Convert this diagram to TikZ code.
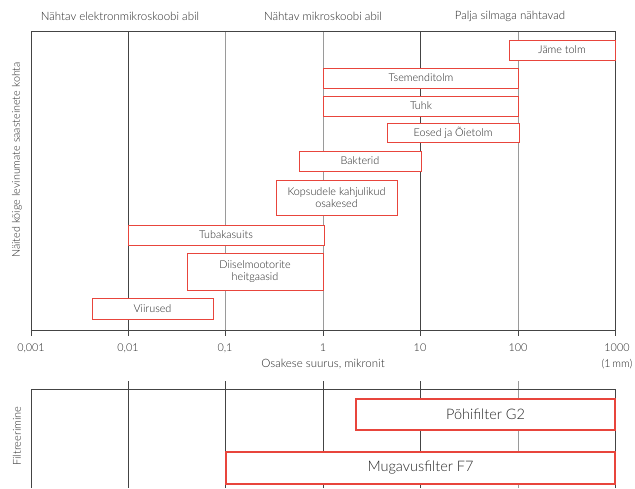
\documentclass[tikz,border=0pt]{standalone}
\usepackage{fontspec}
\setmainfont{Lato Light}
\usepackage{xcolor}
\usepackage{tikz}

\definecolor{boxred}{HTML}{E8453C}
\definecolor{txtgray}{HTML}{262626}
\definecolor{griddark}{HTML}{444444}
\definecolor{gridlight}{HTML}{9A9A9A}

\tikzset{
  sizebox/.style={draw=boxred, line width=1pt, fill=white, text=txtgray,
    font=\fontsize{10.8}{12.5}\selectfont, inner sep=0pt, align=center},
  filterbox/.style={draw=boxred, line width=1.3pt, fill=white, text=txtgray,
    font=\fontsize{14.5}{16}\selectfont, inner sep=0pt},
  ticklabel/.style={text=txtgray, font=\fontsize{10.8}{12}\selectfont},
  headlabel/.style={text=txtgray, font=\fontsize{11.5}{13}\selectfont}
}

\begin{document}
\begin{tikzpicture}[x=1pt, y=-1pt]
        \useasboundingbox (0, 0) rectangle (635, 488);

        % upper panel, decade lines
        \draw[griddark, line width=0.8pt] (128, 31) -- (128, 330);
        \draw[gridlight, line width=1pt] (225, 31) -- (225, 330);
        \draw[gridlight, line width=1pt] (323, 31) -- (323, 330);
        \draw[griddark, line width=0.8pt] (420, 31) -- (420, 330);
        \draw[gridlight, line width=1pt] (518, 31) -- (518, 330);
        \draw[griddark, line width=1pt] (31, 330) -- (31, 31) -- (615, 31) -- (615, 330);

        % axis with ticks
        \draw[griddark, line width=1pt] (31, 330) -- (615, 330);
        \draw[griddark, line width=0.8pt] (31, 330) -- (31, 336);
        \draw[griddark, line width=0.8pt] (128, 330) -- (128, 336);
        \draw[griddark, line width=0.8pt] (225, 330) -- (225, 336);
        \draw[griddark, line width=0.8pt] (323, 330) -- (323, 336);
        \draw[griddark, line width=0.8pt] (420, 330) -- (420, 336);
        \draw[griddark, line width=0.8pt] (518, 330) -- (518, 336);
        \draw[griddark, line width=0.8pt] (615, 330) -- (615, 336);

        \node[ticklabel] (t0) at (31, 348) {0,001};
        \node[ticklabel] (t1) at (128, 348) {0,01};
        \node[ticklabel] (t2) at (225, 348) {0,1};
        \node[ticklabel] (t3) at (323, 348) {1};
        \node[ticklabel] (t4) at (420, 348) {10};
        \node[ticklabel] (t5) at (518, 348) {100};
        \node[ticklabel] (t6) at (617, 348) {1000};
        \node[ticklabel] (mm) at (617, 364) {(1\,mm)};
        \node[headlabel] (xtitle) at (323, 364) {Osakese suurus, mikronit};

        % headings
        \node[headlabel] (elektron) at (120, 16) {Nähtav elektronmikroskoobi abil};
        \node[headlabel] (mikro) at (323, 16) {Nähtav mikroskoobi abil};
        \node[headlabel] (silm) at (510, 16) {Palja silmaga nähtavad};
        \node[headlabel, rotate=90, font=\fontsize{10.8}{12}\selectfont] (ytitle) at (17, 160) {Näited kõige levinumate saasteinete kohta};

        % pollutants
        \node[sizebox, minimum width=106pt, minimum height=20pt] (jame) at (562, 50) {Jäme tolm};
        \node[sizebox, minimum width=195pt, minimum height=20pt] (tsement) at (421, 78) {Tsemenditolm};
        \node[sizebox, minimum width=195pt, minimum height=20pt] (tuhk) at (421, 106) {Tuhk};
        \node[sizebox, minimum width=132pt, minimum height=19pt] (eosed) at (453, 133) {Eosed ja Õietolm};
        \node[sizebox, minimum width=122pt, minimum height=20pt] (bakterid) at (360, 161) {Bakterid};
        \node[sizebox, minimum width=121pt, minimum height=35pt] (kops) at (336.5, 197.5) {Kopsudele kahjulikud\\osakesed};
        \node[sizebox, minimum width=196pt, minimum height=20pt] (tubakas) at (226, 235) {Tubakasuits};
        \node[sizebox, minimum width=136pt, minimum height=37pt] (diisel) at (255, 271.5) {Diiselmootorite\\heitgaasid};
        \node[sizebox, minimum width=121pt, minimum height=21pt] (viirus) at (152.5, 308.5) {Viirused};

        % lower panel
        \draw[griddark, line width=0.8pt] (128, 381) -- (128, 488);
        \draw[griddark, line width=0.8pt] (225, 381) -- (225, 488);
        \draw[griddark, line width=0.8pt] (323, 381) -- (323, 488);
        \draw[griddark, line width=0.8pt] (420, 381) -- (420, 488);
        \draw[gridlight, line width=1pt] (518, 381) -- (518, 488);
        \draw[griddark, line width=1pt] (31, 488) -- (31, 389) -- (615, 389) -- (615, 488);
        \node[headlabel, rotate=90, font=\fontsize{11}{12}\selectfont] (filt) at (17, 436) {Filtreerimine};

        \node[filterbox, minimum width=259pt, minimum height=31pt] (g2) at (485.5, 414.5) {Põhifilter G2};
        \node[filterbox, minimum width=389pt, minimum height=32pt] (f7) at (420.5, 468) {Mugavusfilter F7};
      \end{tikzpicture}
\end{document}
